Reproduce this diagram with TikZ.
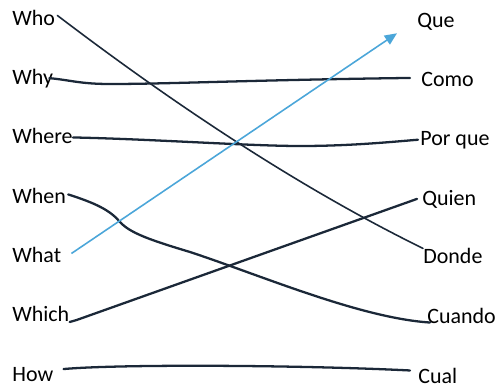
\documentclass[tikz,border=0pt]{standalone}
\usepackage{fontspec}
\setmainfont{Carlito}
\usepackage{tikz}
\usetikzlibrary{arrows.meta,calc}
\definecolor{Ink}{HTML}{1B2838}
\definecolor{SkyLine}{HTML}{4BA6D9}
\tikzset{
  word/.style={anchor=base west,inner sep=0pt,font=\fontsize{12.5}{14}\selectfont},
  pen/.style={draw=Ink,line width=1.3pt,line cap=round,line join=round},
  thinpen/.style={draw=Ink,line width=0.9pt,line cap=round},
  bluepen/.style={draw=SkyLine,line width=0.9pt,-{Triangle[length=7pt,width=6pt]}}}
\begin{document}
\begin{tikzpicture}[x=0.02cm,y=-0.02cm]
  \useasboundingbox (0,0) rectangle (499,389);
  % English words
  \node[word] (who)   at (12,25)  {Who};
  \node[word] (why)   at (12,84)  {Why};
  \node[word] (where) at (12,143) {Where};
  \node[word] (when)  at (12,203) {When};
  \node[word] (what)  at (12,262) {What};
  \node[word] (which) at (12,321) {Which};
  \node[word] (how)   at (12,381) {How};
  % Spanish words
  \node[word] (que)    at (417,27)  {Que};
  \node[word] (como)   at (421,86)  {Como};
  \node[word] (porque) at (420,145) {Por que};
  \node[word] (quien)  at (422,205) {Quien};
  \node[word] (donde)  at (423,263) {Donde};
  \node[word] (cuando) at (427,323) {Cuando};
  \node[word] (cual)   at (418,383) {Cual};
  % Matches
  \draw[thinpen] ($(who.east)+(2,-2)$) .. controls (175,105) and (300,188) .. ($(donde.north west)+(0,1)$);
  \draw[pen] ($(why.east)+(-4,0)$) .. controls (70,80) and (80,84) .. (110,84)
    .. controls (170,84) and (250,80) .. ($(como.west)+(-11,-1)$);
  \draw[pen] ($(where.east)+(0,2)$) .. controls (150,139) and (250,146) .. (300,146)
    .. controls (350,146) and (390,142) .. ($(porque.west)+(-2,0)$);
  \draw[pen] ($(when.east)+(2,-1)$) .. controls (95,203) and (110,210) .. (120,222)
    .. controls (130,233) and (150,240) .. (190,252)
    .. controls (260,275) and (360,318) .. ($(cuando.south west)+(3,-1)$);
  \draw[bluepen] ($(what.east)+(10,-1)$) -- ($(que.south west)+(-20,3)$);
  \draw[pen] ($(which.base east)+(0,1)$) -- ++(7,-2) -- ($(quien.west)+(-5,0)$);
  \draw[pen] ($(how.east)+(10,-5)$) .. controls (120,364) and (300,365) .. ($(cual.west)+(-8,-5)$);
\end{tikzpicture}
\end{document}
